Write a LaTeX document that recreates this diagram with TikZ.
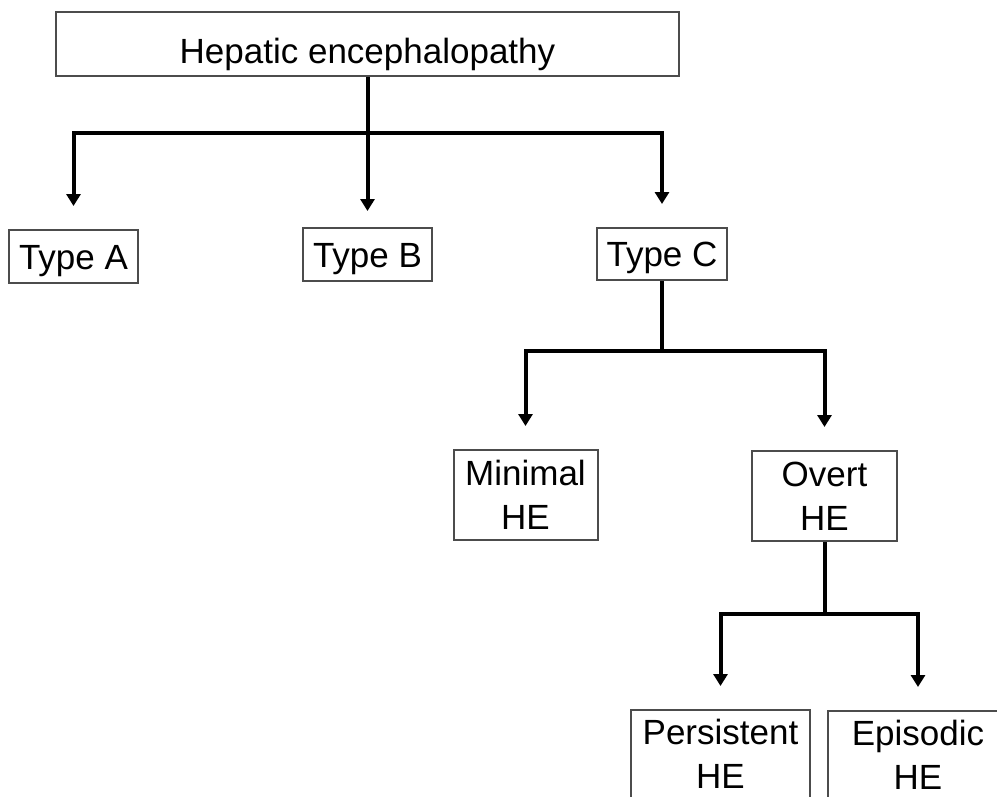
\documentclass[tikz,border=0pt]{standalone}
\usepackage{fontspec}
\setmainfont{Liberation Sans}
\usetikzlibrary{arrows.meta}

\tikzset{
	box/.style={draw=black!70, line width=2pt, inner sep=0pt, align=center,
		font=\fontsize{35}{44}\selectfont},
	onebox/.style={box, text height=25pt, text depth=0pt},
	link/.style={line width=4pt, -{Triangle[width=14pt,length=12pt]}, shorten >=23pt},
	stem/.style={line width=4pt}
}

\begin{document}
\begin{tikzpicture}[x=1pt,y=-1pt]
	\clip (0,0) rectangle (997,796);
	\fill[white] (0,0) rectangle (997,796);
	% boxes
	\node[onebox, text height=38pt, minimum width=623pt, minimum height=64pt] (he) at (367.5,44) {Hepatic encephalopathy};
	\node[onebox, minimum width=129pt, minimum height=53pt] (typeA) at (73.5,256.5) {Type A};
	\node[onebox, minimum width=129pt, minimum height=53pt] (typeB) at (367.5,254.5) {Type B};
	\node[onebox, minimum width=130pt, minimum height=52pt] (typeC) at (662,254) {Type C};
	\node[box, minimum width=144pt, minimum height=90pt] (minimal) at (525.5,495) {Minimal\\HE};
	\node[box, minimum width=145pt, minimum height=90pt] (overt) at (824.5,496) {Overt\\HE};
	\node[box, minimum width=179pt, minimum height=88pt] (persist) at (720.5,754) {Persistent\\HE};
	\node[box, minimum width=180pt, minimum height=88pt] (episod) at (918,755) {Episodic\\HE};
	% connectors
	\coordinate (barA) at (367.5,133);
	\draw[stem] (he.south) -- (barA);
	\draw[link] (barA) -| (typeA.north);
	\draw[link, shorten >=16pt] (barA) -- (typeB.north);
	\draw[link] (barA) -| (typeC.north);
	\coordinate (barC) at (662,351);
	\draw[stem] (typeC.south) -- (barC);
	\draw[link] (barC) -| (minimal.north);
	\draw[link] (barC) -| (overt.north);
	\coordinate (barO) at (824.5,614);
	\draw[stem] (overt.south) -- (barO);
	\draw[link] (barO) -| (persist.north);
	\draw[link] (barO) -| (episod.north);
\end{tikzpicture}
\end{document}
